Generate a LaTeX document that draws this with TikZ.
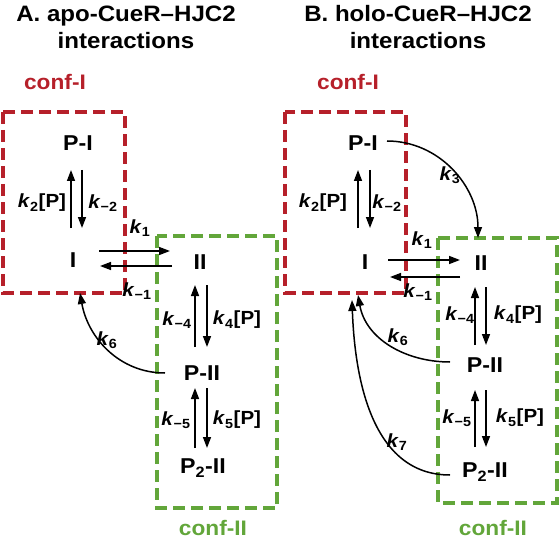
\documentclass[tikz,border=0pt]{standalone}
\usepackage{fontspec}
\setmainfont[FakeStretch=1.08]{Liberation Sans}
\usetikzlibrary{arrows.meta}
\definecolor{confred}{RGB}{182,32,42}
\definecolor{confgreen}{RGB}{98,166,58}
\tikzset{  state/.style={font=\fontsize{21.5}{25}\selectfont\bfseries,inner sep=0pt},
  rate/.style={font=\fontsize{19}{22}\selectfont\bfseries,inner sep=0pt},
  heading/.style={font=\fontsize{22.3}{27}\selectfont\bfseries,align=center,inner sep=0pt},
  conflabel/.style={font=\fontsize{21}{24}\selectfont\bfseries,inner sep=0pt},
  redbox/.style={-,draw=confred,line width=3.5pt,dash pattern=on 12pt off 6pt},
  greenbox/.style={-,draw=confgreen,line width=3.5pt,dash pattern=on 12pt off 6pt} }
\newcommand{\kr}[1]{\textit{k}\textsubscript{#1}}

\begin{document}
\begin{tikzpicture}[x=1pt,y=-1pt,->,>={Triangle[length=11pt,width=8pt]},line width=1.5pt]
   \useasboundingbox (0,0) rectangle (559,540);
   % A. apo
   \node[heading] (titleA) at (126,27) {A. apo-CueR–HJC2\\interactions};
   \node[conflabel,text=confred] (confIa) at (55,82) {conf-I};
   \draw[redbox] (3,112) rectangle (125,293);
   \draw[greenbox] (157,236) rectangle (277,508);
   \node[conflabel,text=confgreen] (confIIa) at (213,528) {conf-II};
   \node[state] (PIa) at (78,143) {P-I};
   \node[state] (Ia) at (73,260) {I};
   \node[state] (IIa) at (200,262) {II};
   \node[state] (PIIa) at (202,373) {P-II};
   \node[state] (P2IIa) at (203,468) {P\textsubscript{2}-II};
   \draw ([xshift=-2pt,yshift=32pt]Ia.center) -- ([xshift=-7pt,yshift=-27pt]PIa.center);
   \draw ([xshift=4pt,yshift=-27pt]PIa.center) -- ([xshift=9pt,yshift=32pt]Ia.center);
   \draw ([xshift=26pt,yshift=9pt]Ia.center) -- ([xshift=-30pt,yshift=11pt]IIa.center);
   \draw ([xshift=-28pt,yshift=-4pt]IIa.center) -- ([xshift=27pt,yshift=-6pt]Ia.center);
   \draw ([xshift=-7pt,yshift=26pt]PIIa.center) -- ([xshift=-5pt,yshift=-23pt]IIa.center);
   \draw ([xshift=7pt,yshift=-23pt]IIa.center) -- ([xshift=5pt,yshift=26pt]PIIa.center);
   \draw ([xshift=-8pt,yshift=20pt]P2IIa.center) -- ([xshift=-7pt,yshift=-15pt]PIIa.center);
   \draw ([xshift=5pt,yshift=-15pt]PIIa.center) -- ([xshift=4pt,yshift=20pt]P2IIa.center);
   \draw ([xshift=-37pt]PIIa.center) to[out=180,in=-80] ([xshift=7pt,yshift=-33pt]Ia.center);
   \node[rate] (k2a) at (42,203) {\kr{2}[P]};
   \node[rate] (km2a) at (103,203) {\kr{−2}};
   \node[rate] (k1a) at (140,228) {\kr{1}};
   \node[rate] (km1a) at (137,291) {\kr{−1}};
   \node[rate] (km4a) at (177,320) {\kr{−4}};
   \node[rate] (k4a) at (237,320) {\kr{4}[P]};
   \node[rate] (km5a) at (176,420) {\kr{−5}};
   \node[rate] (k5a) at (237,420) {\kr{5}[P]};
   \node[rate] (k6a) at (107,340) {\kr{6}};
   % B. holo
   \node[heading] (titleB) at (418,27) {B. holo-CueR–HJC2\\interactions};
   \node[conflabel,text=confred] (confIb) at (348,82) {conf-I};
   \draw[redbox] (285,112) rectangle (406,293);
   \draw[greenbox] (438,238) rectangle (557,503);
   \node[conflabel,text=confgreen] (confIIb) at (493,528) {conf-II};
   \node[state] (PIb) at (363,143) {P-I};
   \node[state] (Ib) at (365,262) {I};
   \node[state] (IIb) at (481,263) {II};
   \node[state] (PIIb) at (485,365) {P-II};
   \node[state] (P2IIb) at (485,472) {P\textsubscript{2}-II};
   \draw ([xshift=-7pt,yshift=34pt]Ib.center) -- ([xshift=-5pt,yshift=-27pt]PIb.center);
   \draw ([xshift=7pt,yshift=-27pt]PIb.center) -- ([xshift=5pt,yshift=34pt]Ib.center);
   \draw ([xshift=23pt,yshift=2pt]Ib.center) -- ([xshift=-21pt,yshift=3pt]IIb.center);
   \draw ([xshift=-21pt,yshift=-14pt]IIb.center) -- ([xshift=25pt,yshift=-15pt]Ib.center);
   \draw ([xshift=-10pt,yshift=20pt]PIIb.center) -- ([xshift=-6pt,yshift=-24pt]IIb.center);
   \draw ([xshift=5pt,yshift=-24pt]IIb.center) -- ([xshift=1pt,yshift=20pt]PIIb.center);
   \draw ([xshift=-10pt,yshift=25pt]P2IIb.center) -- ([xshift=-10pt,yshift=-25pt]PIIb.center);
   \draw ([xshift=1pt,yshift=-25pt]PIIb.center) -- ([xshift=1pt,yshift=25pt]P2IIb.center);
   \draw ([xshift=24pt,yshift=2pt]PIb.center) to[out=0,in=90] ([xshift=-3pt,yshift=25pt]IIb.center);
   \draw ([xshift=-35pt,yshift=3pt]PIIb.center) to[out=180,in=-80] ([xshift=-7pt,yshift=-33pt]Ib.center);
   \draw ([xshift=-35pt,yshift=-3pt]P2IIb.center) to[out=180,in=-88] ([xshift=-13pt,yshift=-38pt]Ib.center);
   \node[rate] (k2b) at (323,203) {\kr{2}[P]};
   \node[rate] (km2b) at (387,203) {\kr{−2}};
   \node[rate] (k3b) at (450,175) {\kr{3}};
   \node[rate] (k1b) at (422,240) {\kr{1}};
   \node[rate] (km1b) at (418,292) {\kr{−1}};
   \node[rate] (km4b) at (460,315) {\kr{−4}};
   \node[rate] (k4b) at (518,315) {\kr{4}[P]};
   \node[rate] (km5b) at (457,418) {\kr{−5}};
   \node[rate] (k5b) at (520,418) {\kr{5}[P]};
   \node[rate] (k6b) at (398,337) {\kr{6}};
   \node[rate] (k7b) at (397,442) {\kr{7}};
\end{tikzpicture}
\end{document}
